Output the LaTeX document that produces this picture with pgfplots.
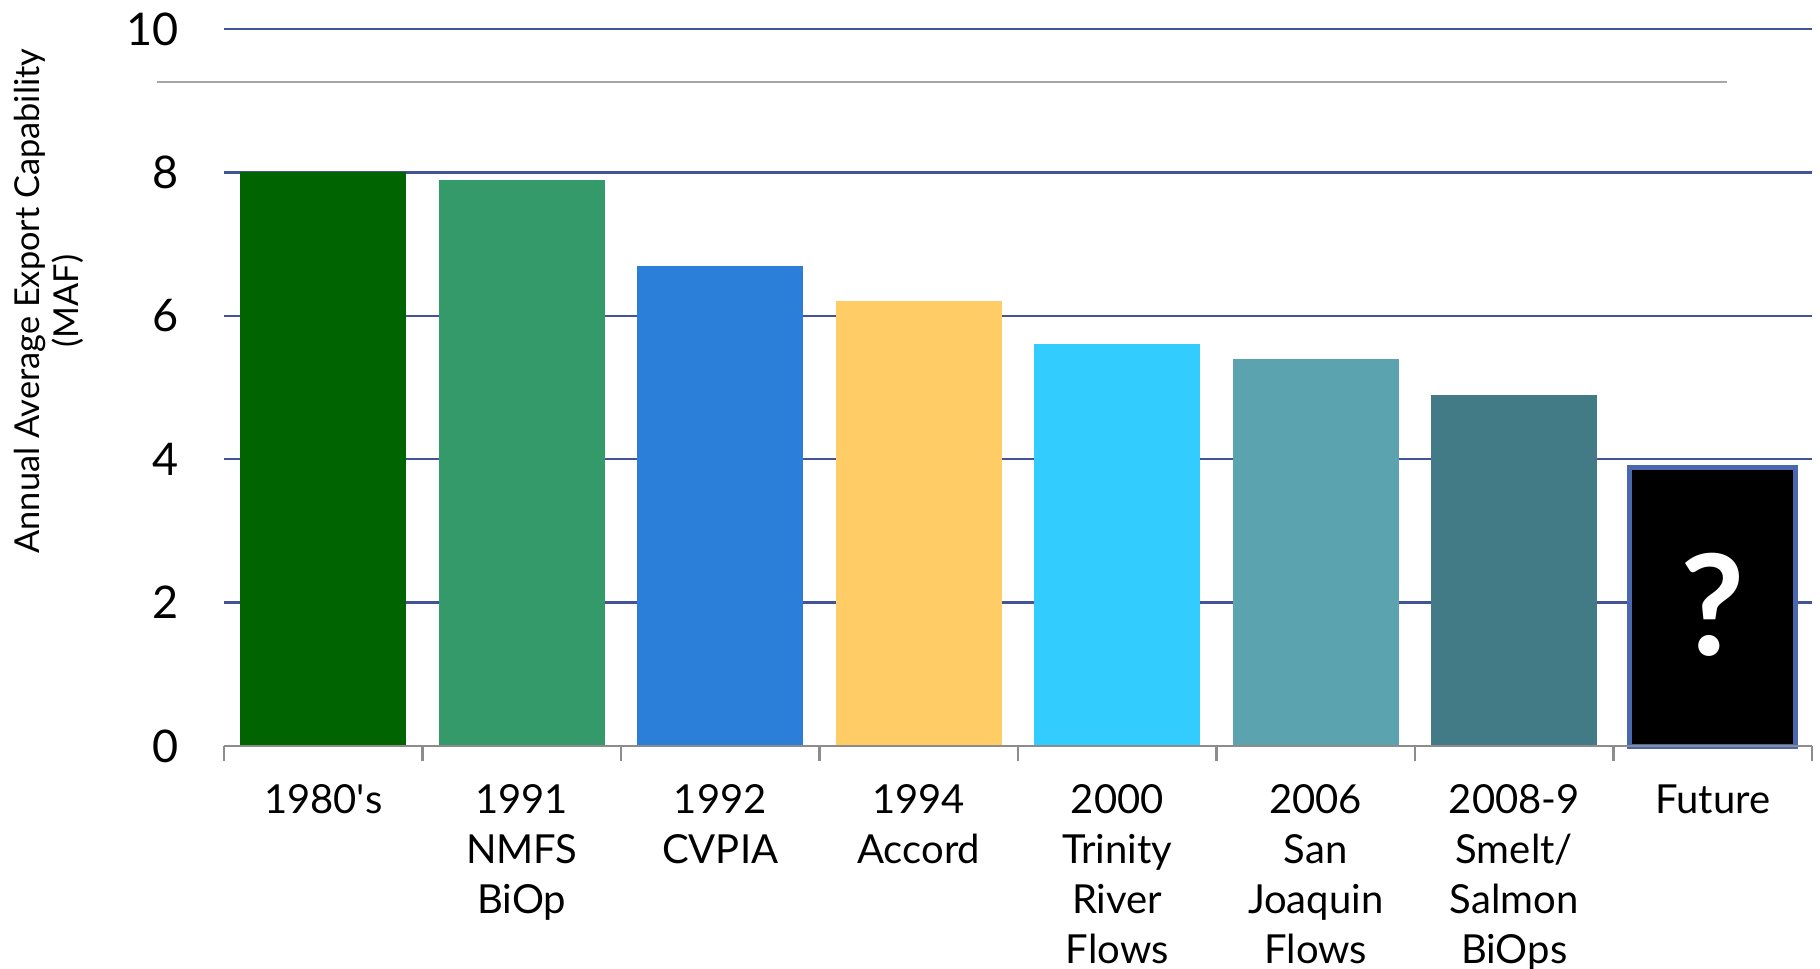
\documentclass[border=0pt]{standalone}
\usepackage{pgfplots}
\pgfplotsset{compat=1.18}
\usepackage{fontspec}
\setmainfont{Lato}
\definecolor{c1}{HTML}{006400}
\definecolor{c2}{HTML}{349A6A}
\definecolor{c3}{HTML}{2C7FD8}
\definecolor{c4}{HTML}{FFCC66}
\definecolor{c5}{HTML}{33CCFF}
\definecolor{c6}{HTML}{5BA3AE}
\definecolor{c7}{HTML}{427B85}
\definecolor{gridc}{HTML}{435398}
\definecolor{futb}{HTML}{4A67B0}
\definecolor{axc}{HTML}{8C8C8C}
\begin{document}
\begin{tikzpicture}[x=1pt,y=1pt]
\useasboundingbox (-67.2,-66.6) rectangle (478.8,223.8);
\begin{axis}[
  at={(0,0)}, anchor=south west,
  scale only axis, width=476.4pt, height=215.1pt,
  xmin=-0.5, xmax=7.5, ymin=0, ymax=10,
  clip=false,
  axis line style={draw=none},
  ybar, bar width=49.8pt, bar shift=0pt,
  xtick={0,...,7},
  xticklabels={{1980\textquotesingle s},{1991\\NMFS\\BiOp},{1992\\CVPIA},{1994\\Accord},{2000\\Trinity\\River\\Flows},{2006\\San\\Joaquin\\Flows},{2008-9\\Smelt/\\Salmon\\BiOps},{Future}},
  xticklabel style={align=center, font=\fontsize{12}{15}\selectfont, anchor=north, yshift=-8pt},
  major tick length=0pt,
  minor xtick={-0.5,0.5,...,7.5},
  minor tick length=4.5pt,
  tick align=outside,
  xtick pos=lower,
  minor x tick style={draw=axc, line width=0.8pt},
  ytick={0,2,...,10},
  ytick style={draw=none},
  yticklabel style={font=\fontsize{13.5}{16}\selectfont, xshift=-10pt},
  /pgf/number format/assume math mode=true,
  ymajorgrids,
  grid style={draw=gridc, line width=0.7pt},
  ylabel={Annual Average Export Capability\\(MAF)},
  ylabel style={align=center, font=\fontsize{10.3}{11.5}\selectfont, at={(rel axis cs:-0.1102,0.6206)}, anchor=center},
]
\addplot[fill=c1, draw=none, bar shift=0pt] coordinates {(0,8.0)};
\addplot[fill=c2, draw=none, bar shift=0pt] coordinates {(1,7.9)};
\addplot[fill=c3, draw=none, bar shift=0pt] coordinates {(2,6.7)};
\addplot[fill=c4, draw=none, bar shift=0pt] coordinates {(3,6.2)};
\addplot[fill=c5, draw=none, bar shift=0pt] coordinates {(4,5.6)};
\addplot[fill=c6, draw=none, bar shift=0pt] coordinates {(5,5.4)};
\addplot[fill=c7, draw=none, bar shift=0pt] coordinates {(6,4.9)};
\addplot[fill=black, draw=futb, line width=1.5pt, bar shift=0pt] coordinates {(7,3.88)};
\draw[draw=axc, line width=0.8pt] (axis cs:-0.5,0) -- (axis cs:7.5,0);
\draw[draw=black!35, line width=0.6pt] (axis cs:-0.84,9.26) -- (axis cs:7.07,9.26);
\node[text=white, font=\fontsize{42}{42}\selectfont\bfseries] at (axis cs:7,1.97) {?};
\end{axis}
\end{tikzpicture}
\end{document}
